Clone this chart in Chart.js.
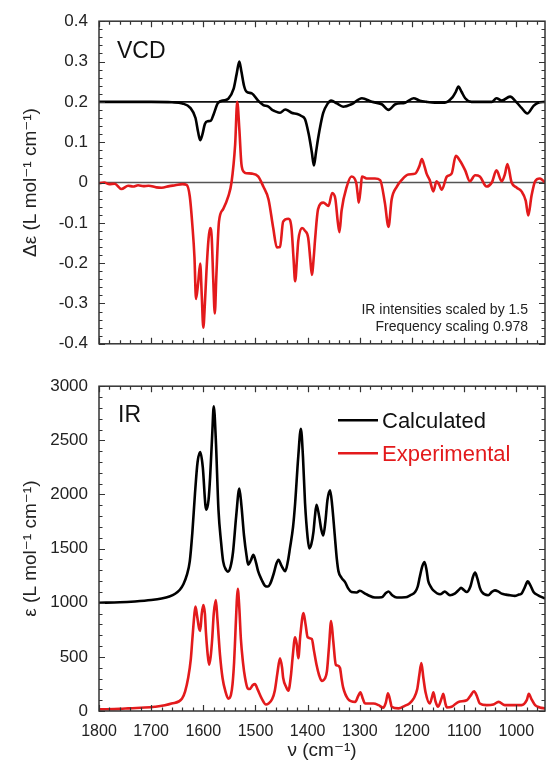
<!DOCTYPE html>
<html>
<head>
<meta charset="utf-8">
<script src="https://cdn.jsdelivr.net/npm/chart.js@4.4.1/dist/chart.umd.min.js"></script>
<style>
  body { margin: 0; background: #fff; }
  canvas { position: absolute; left: 0; }
  #vcd { top: 0; }
  #ir { top: 365px; }
</style>
</head>
<body>
<canvas id="vcd" width="555" height="365"></canvas>
<canvas id="ir" width="555" height="408"></canvas>
<script>
// wavenumber (cm-1), value
const vcdCalc = [
  [1800, 0.200], [1700, 0.200], [1660, 0.199], [1640, 0.196], [1625, 0.185], [1615, 0.160],
  [1610, 0.125], [1606, 0.105], [1602, 0.118], [1597, 0.145], [1592, 0.152], [1586, 0.153],
  [1580, 0.170], [1572, 0.197], [1560, 0.204], [1552, 0.208], [1542, 0.232], [1536, 0.270],
  [1531, 0.300], [1527, 0.275], [1522, 0.240], [1517, 0.225], [1507, 0.221], [1495, 0.203],
  [1485, 0.192], [1476, 0.189], [1468, 0.180], [1463, 0.177], [1453, 0.173], [1443, 0.181],
  [1437, 0.178], [1431, 0.173], [1420, 0.170], [1412, 0.165], [1405, 0.157], [1398, 0.120],
  [1392, 0.075], [1388, 0.042], [1384, 0.075], [1380, 0.109], [1375, 0.145], [1370, 0.173],
  [1362, 0.195], [1355, 0.203], [1344, 0.196], [1332, 0.188], [1316, 0.194], [1296, 0.209],
  [1277, 0.200], [1258, 0.194], [1245, 0.180], [1232, 0.194], [1213, 0.198], [1197, 0.209],
  [1185, 0.203], [1172, 0.200], [1156, 0.198], [1137, 0.198], [1124, 0.209], [1116, 0.225],
  [1111, 0.238], [1105, 0.225], [1098, 0.209], [1086, 0.200], [1047, 0.200], [1038, 0.209],
  [1028, 0.203], [1012, 0.213], [999, 0.198], [990, 0.185], [979, 0.171], [967, 0.190],
  [958, 0.198], [945, 0.200]
];
const vcdExp = [
  [1800, -0.002], [1790, 0.000], [1780, -0.004], [1770, -0.003], [1757, -0.016], [1744, -0.008],
  [1735, -0.010], [1725, -0.007], [1715, -0.009], [1705, -0.008], [1690, -0.012], [1680, -0.013],
  [1665, -0.009], [1654, -0.007], [1640, -0.004], [1632, -0.006], [1626, -0.034], [1621, -0.106],
  [1617, -0.185], [1614, -0.289], [1610, -0.250], [1606, -0.201], [1603, -0.280], [1600, -0.360],
  [1597, -0.300], [1594, -0.220], [1590, -0.140], [1587, -0.113], [1584, -0.135], [1581, -0.240],
  [1578, -0.325], [1575, -0.230], [1570, -0.097], [1562, -0.066], [1552, -0.034], [1546, 0.000],
  [1539, 0.094], [1535, 0.200], [1531, 0.133], [1527, 0.046], [1522, 0.026], [1517, 0.023],
  [1507, 0.022], [1495, 0.015], [1485, -0.010], [1475, -0.042], [1466, -0.113], [1459, -0.161],
  [1453, -0.160], [1447, -0.097], [1437, -0.090], [1431, -0.113], [1427, -0.190], [1424, -0.245],
  [1420, -0.180], [1418, -0.145], [1411, -0.113], [1405, -0.120], [1399, -0.137], [1395, -0.190],
  [1392, -0.229], [1388, -0.180], [1386, -0.145], [1380, -0.066], [1370, -0.050], [1360, -0.058],
  [1353, -0.026], [1347, -0.040], [1342, -0.100], [1339, -0.123], [1335, -0.070], [1325, -0.010],
  [1316, 0.015], [1307, 0.000], [1304, -0.030], [1302, -0.050], [1298, -0.010], [1296, 0.015],
  [1287, 0.010], [1271, 0.010], [1261, 0.006], [1252, -0.050], [1245, -0.110], [1239, -0.042],
  [1229, -0.010], [1220, 0.006], [1207, 0.020], [1194, 0.022], [1186, 0.040], [1181, 0.058],
  [1176, 0.040], [1172, 0.022], [1166, 0.006], [1159, -0.022], [1153, 0.003], [1148, -0.005],
  [1143, -0.018], [1133, 0.015], [1124, 0.022], [1116, 0.066], [1108, 0.054], [1098, 0.030],
  [1089, 0.003], [1079, 0.018], [1070, 0.015], [1057, -0.010], [1047, 0.000], [1038, 0.030],
  [1028, 0.003], [1022, 0.020], [1017, 0.046], [1009, 0.000], [999, -0.013], [990, -0.022],
  [982, -0.045], [977, -0.082], [971, -0.034], [964, 0.003], [955, 0.010], [950, 0.006],
  [945, 0.000]
];
const irCalc = [
  [1800, 1000], [1760, 1004], [1731, 1012], [1700, 1025], [1680, 1039], [1665, 1058],
  [1654, 1083], [1645, 1120], [1638, 1173], [1632, 1250], [1626, 1382], [1621, 1650],
  [1616, 2009], [1611, 2300], [1606, 2391], [1601, 2250], [1596, 1900], [1594, 1860],
  [1590, 1950], [1587, 2158], [1583, 2550], [1580, 2815], [1576, 2500], [1571, 1860],
  [1566, 1560], [1562, 1382], [1556, 1300], [1553, 1287], [1548, 1330], [1543, 1471],
  [1537, 1800], [1531, 2054], [1527, 1900], [1522, 1621], [1517, 1430], [1514, 1352],
  [1509, 1390], [1504, 1442], [1499, 1370], [1495, 1292], [1488, 1210], [1482, 1158],
  [1476, 1150], [1472, 1173], [1465, 1270], [1460, 1360], [1456, 1397], [1450, 1340],
  [1443, 1292], [1438, 1380], [1434, 1502], [1428, 1700], [1424, 1919], [1418, 2350],
  [1413, 2606], [1409, 2350], [1405, 1919], [1400, 1600], [1397, 1502], [1393, 1540],
  [1389, 1650], [1386, 1800], [1383, 1904], [1378, 1800], [1374, 1680], [1370, 1621],
  [1366, 1750], [1362, 1950], [1357, 2039], [1353, 1900], [1348, 1621], [1344, 1400],
  [1341, 1292], [1335, 1230], [1328, 1188], [1322, 1130], [1316, 1099], [1306, 1095],
  [1300, 1110], [1290, 1085], [1284, 1069], [1271, 1048], [1258, 1050], [1250, 1090],
  [1245, 1104], [1238, 1070], [1229, 1048], [1213, 1050], [1203, 1070], [1194, 1099],
  [1189, 1150], [1185, 1240], [1180, 1340], [1176, 1376], [1172, 1300], [1169, 1203],
  [1163, 1140], [1159, 1114], [1146, 1078], [1140, 1095], [1137, 1104], [1132, 1085],
  [1127, 1069], [1118, 1084], [1110, 1120], [1106, 1137], [1100, 1115], [1095, 1099],
  [1088, 1150], [1083, 1240], [1079, 1278], [1075, 1230], [1070, 1140], [1066, 1099],
  [1054, 1069], [1047, 1100], [1041, 1114], [1035, 1105], [1028, 1084], [1020, 1075],
  [1012, 1069], [1003, 1063], [995, 1075], [990, 1084], [984, 1140], [978, 1197],
  [973, 1160], [967, 1099], [958, 1069], [950, 1050], [945, 1039]
];
const irExp = [
  [1800, 15], [1760, 20], [1744, 24], [1720, 30], [1693, 39], [1661, 69], [1641, 114],
  [1635, 180], [1629, 307], [1624, 480], [1621, 665], [1617, 900], [1615, 964], [1612, 880],
  [1608, 760], [1606, 740], [1603, 900], [1600, 979], [1597, 900], [1595, 725], [1592, 540],
  [1589, 427], [1586, 500], [1583, 665], [1580, 900], [1576, 1024], [1573, 850], [1568, 517],
  [1563, 300], [1558, 188], [1552, 114], [1547, 150], [1544, 248], [1541, 450], [1539, 665],
  [1536, 1000], [1534, 1128], [1531, 950], [1528, 665], [1524, 450], [1520, 307], [1515, 210],
  [1511, 203], [1505, 240], [1501, 248], [1496, 200], [1488, 114], [1480, 60], [1475, 69],
  [1468, 110], [1463, 188], [1458, 350], [1453, 487], [1449, 400], [1447, 307], [1441, 220],
  [1437, 188], [1432, 330], [1429, 487], [1424, 681], [1421, 620], [1418, 487], [1414, 700],
  [1408, 904], [1404, 800], [1400, 681], [1392, 665], [1388, 560], [1383, 427], [1378, 330],
  [1373, 278], [1367, 300], [1363, 368], [1359, 600], [1355, 830], [1351, 650], [1346, 427],
  [1343, 420], [1338, 397], [1335, 300], [1332, 218], [1323, 114], [1309, 84], [1303, 140],
  [1299, 173], [1294, 110], [1290, 69], [1274, 69], [1264, 54], [1255, 30], [1250, 80],
  [1246, 164], [1241, 80], [1239, 39], [1226, 24], [1213, 50], [1205, 69], [1197, 114],
  [1190, 200], [1186, 330], [1182, 442], [1178, 300], [1174, 173], [1166, 69], [1161, 140],
  [1159, 173], [1155, 90], [1150, 39], [1143, 120], [1140, 158], [1136, 70], [1133, 33],
  [1124, 39], [1111, 84], [1095, 99], [1088, 140], [1081, 182], [1075, 130], [1070, 69],
  [1057, 54], [1044, 60], [1034, 84], [1022, 54], [1006, 54], [990, 54], [980, 100],
  [976, 158], [971, 110], [964, 54], [955, 33], [945, 24]
];
// horizontal reference lines in the VCD panel
const vcdBaselines = [0.2, 0];

const nuRange = [1800, 945];
const xTicks = [1800, 1700, 1600, 1500, 1400, 1300, 1200, 1100, 1000];
const vcdTicks = [0.4, 0.3, 0.2, 0.1, 0, -0.1, -0.2, -0.3, -0.4];
const irTicks = [3000, 2500, 2000, 1500, 1000, 500, 0];

const FONT = "'Liberation Sans', Arial, 'DejaVu Sans', sans-serif";
const RED = '#e31a1c';
Chart.defaults.font.family = FONT;
Chart.defaults.color = '#222';

const toXY = arr => arr.map(p => ({x: p[0], y: p[1]}));

// frame + inward ticks on all four sides
const framePlugin = {
  id: 'frame',
  afterDraw(chart, args, o) {
    const {ctx, chartArea: a, scales: {x, y}} = chart;
    ctx.save();
    ctx.strokeStyle = '#333';
    ctx.lineWidth = 1.2;
    ctx.beginPath();
    const n = Math.round((x.max - x.min) / o.xMinor);
    for (let i = 0; i <= n; i++) {
      const v = x.max - i * o.xMinor;
      if (v < x.min) break;
      const len = v % o.xMajor === 0 ? 6 : 3.5;
      const px = Math.round(x.getPixelForValue(v)) + 0.5;
      ctx.moveTo(px, a.bottom); ctx.lineTo(px, a.bottom - len);
      ctx.moveTo(px, a.top); ctx.lineTo(px, a.top + len);
    }
    const m = Math.round((y.max - y.min) / o.yMinor);
    for (let i = 0; i <= m; i++) {
      const v = y.min + i * o.yMinor;
      const r = v / o.yMajor;
      const len = Math.abs(r - Math.round(r)) < 1e-6 ? 6 : 3.5;
      const py = Math.round(y.getPixelForValue(v)) + 0.5;
      ctx.moveTo(a.left, py); ctx.lineTo(a.left + len, py);
      ctx.moveTo(a.right, py); ctx.lineTo(a.right - len, py);
    }
    ctx.stroke();
    ctx.lineWidth = 1.5;
    ctx.strokeRect(a.left, a.top, a.right - a.left, a.bottom - a.top);
    ctx.restore();
  }
};

function yAxis(min, max, ticks, title) {
  return {
    min: min, max: max,
    afterFit: s => { s.width = 99; },
    afterBuildTicks: s => { s.ticks = ticks.map(v => ({value: v})); },
    grid: {display: false, drawTicks: false},
    border: {display: false},
    ticks: {font: {size: 17}, color: '#222', padding: 11, callback: v => String(v)},
    title: {display: true, text: title, font: {size: 19}, color: '#222', padding: {top: 19, bottom: 0}}
  };
}

const lineStyle = {pointRadius: 0, borderWidth: 2.6, cubicInterpolationMode: 'monotone', fill: false};

// ---- VCD panel ----
new Chart(document.getElementById('vcd'), {
  type: 'line',
  data: {
    datasets: [
      Object.assign({label: 'Calculated', data: toXY(vcdCalc), borderColor: '#000'}, lineStyle),
      Object.assign({label: 'Experimental', data: toXY(vcdExp), borderColor: RED}, lineStyle),
      {label: 'base', data: nuRange.map(v => ({x: v, y: vcdBaselines[0]})), borderColor: '#111',
       borderWidth: 1.8, pointRadius: 0},
      {label: 'zero', data: nuRange.map(v => ({x: v, y: vcdBaselines[1]})), borderColor: '#555',
       borderWidth: 1.4, pointRadius: 0}
    ]
  },
  options: {
    responsive: false,
    animation: false,
    devicePixelRatio: 1,
    layout: {padding: {top: 15, bottom: 15, right: 10, left: 0}},
    scales: {
      x: {type: 'linear', reverse: true, min: nuRange[1], max: nuRange[0], display: false},
      y: yAxis(-0.4, 0.4, vcdTicks, 'Δε (L mol⁻¹ cm⁻¹)')
    },
    plugins: {
      legend: {display: false},
      tooltip: {enabled: false},
      frame: {xMinor: 20, xMajor: 100, yMinor: 0.02, yMajor: 0.1}
    }
  },
  plugins: [framePlugin, {
    id: 'vcdText',
    afterDraw(chart) {
      const {ctx, chartArea: a} = chart;
      ctx.save();
      ctx.fillStyle = '#111';
      ctx.textBaseline = 'alphabetic';
      ctx.font = '23px ' + FONT;
      ctx.fillText('VCD', a.left + 18, a.top + 37);
      ctx.font = '14px ' + FONT;
      ctx.fillStyle = '#222';
      ctx.textAlign = 'right';
      ctx.fillText('IR intensities scaled by 1.5', a.right - 17, a.bottom - 30);
      ctx.fillText('Frequency scaling 0.978', a.right - 17, a.bottom - 13);
      ctx.restore();
    }
  }]
});

// ---- IR panel ----
new Chart(document.getElementById('ir'), {
  type: 'line',
  data: {
    datasets: [
      Object.assign({label: 'Calculated', data: toXY(irCalc), borderColor: '#000'}, lineStyle),
      Object.assign({label: 'Experimental', data: toXY(irExp), borderColor: RED}, lineStyle)
    ]
  },
  options: {
    responsive: false,
    animation: false,
    devicePixelRatio: 1,
    layout: {padding: {top: 11, bottom: 0, right: 10, left: 0}},
    scales: {
      x: {
        type: 'linear', reverse: true, min: nuRange[1], max: nuRange[0],
        afterFit: s => { s.height = 62; },
        afterBuildTicks: s => { s.ticks = xTicks.map(v => ({value: v})); },
        grid: {display: false, drawTicks: false},
        border: {display: false},
        ticks: {font: {size: 16}, color: '#222', padding: 11, maxRotation: 0, callback: v => String(v)},
        title: {display: true, text: 'ν (cm⁻¹)', font: {size: 19}, color: '#222', padding: {top: 0, bottom: 11}}
      },
      y: yAxis(0, 3000, irTicks, 'ε (L mol⁻¹ cm⁻¹)')
    },
    plugins: {
      legend: {display: false},
      tooltip: {enabled: false},
      frame: {xMinor: 20, xMajor: 100, yMinor: 100, yMajor: 500}
    }
  },
  plugins: [framePlugin, {
    id: 'irText',
    afterDraw(chart) {
      const {ctx, chartArea: a} = chart;
      ctx.save();
      ctx.fillStyle = '#111';
      ctx.font = '23px ' + FONT;
      ctx.fillText('IR', a.left + 19, a.top + 36);
      // legend
      chart.data.datasets.forEach((ds, i) => {
        const ly = a.top + 34 + i * 33;
        ctx.strokeStyle = ds.borderColor;
        ctx.lineWidth = 2.4;
        ctx.beginPath();
        ctx.moveTo(a.left + 239, ly);
        ctx.lineTo(a.left + 279, ly);
        ctx.stroke();
        ctx.fillStyle = ds.borderColor === '#000' ? '#111' : ds.borderColor;
        ctx.font = '22px ' + FONT;
        ctx.fillText(ds.label, a.left + 283, ly + 8);
      });
      ctx.restore();
    }
  }]
});
</script>
</body>
</html>
